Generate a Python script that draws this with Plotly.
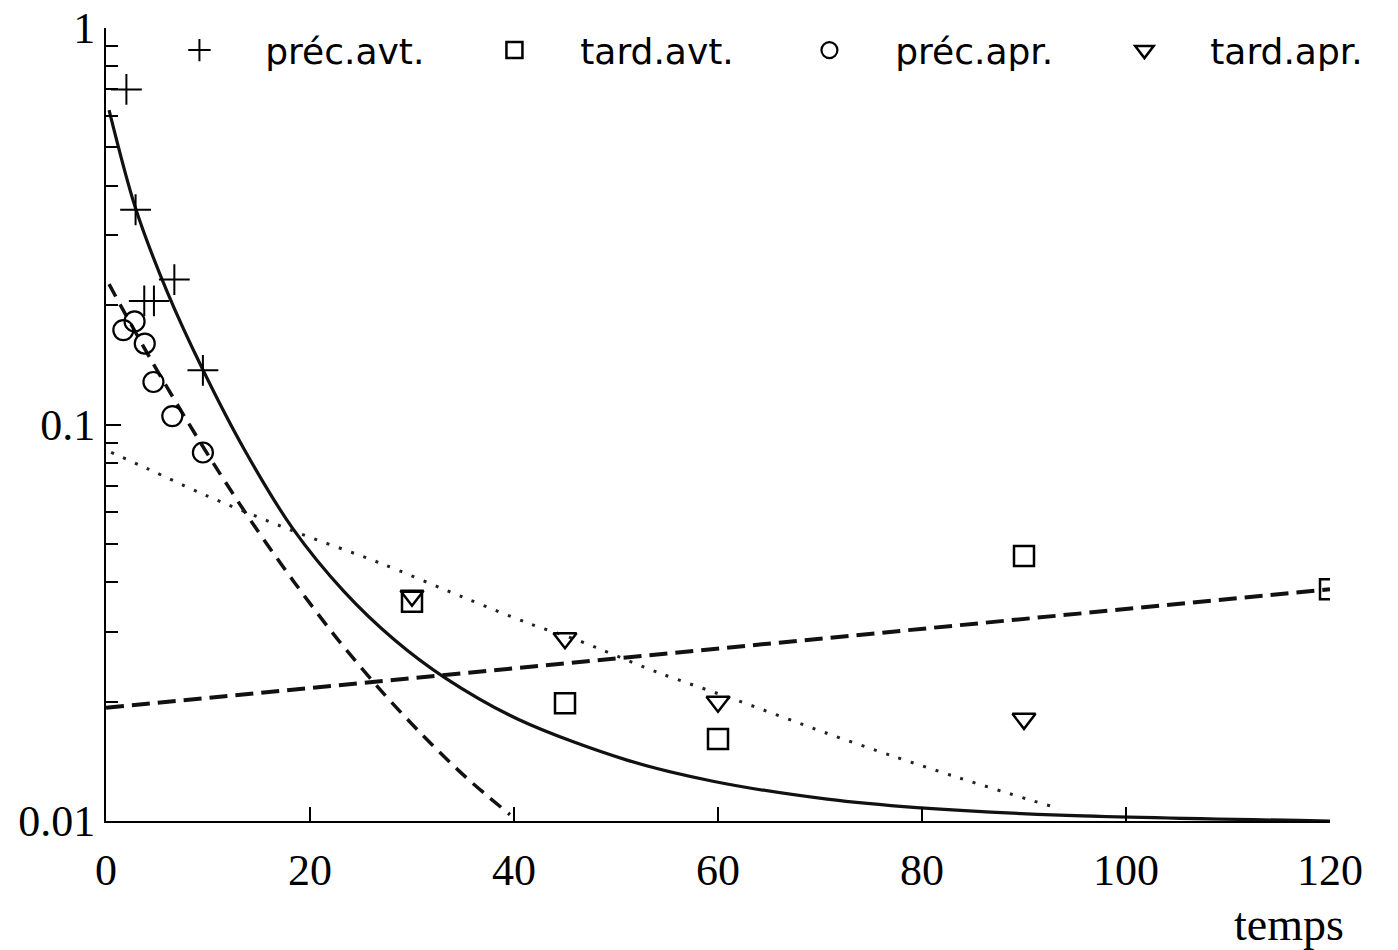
import plotly.graph_objects as go

prec_avt_t = [2.0, 2.9, 3.75, 4.7, 6.7, 9.5]
prec_avt_v = [0.70, 0.348, 0.205, 0.205, 0.232, 0.137]

tard_avt_t = [30, 45, 60, 90, 120]
tard_avt_v = [0.0357, 0.0198, 0.0161, 0.0466, 0.0384]

prec_apr_t = [1.7, 2.8, 3.8, 4.65, 6.5, 9.5]
prec_apr_v = [0.173, 0.182, 0.160, 0.128, 0.105, 0.085]

tard_apr_t = [30, 45, 60, 90]
tard_apr_v = [0.037, 0.0289, 0.0200, 0.0181]

# ---- fitted curves ----
fit_prec_avt_t = [0.3, 2.9, 6.0, 9.5, 13.6, 18.3, 23.3, 28.3, 33.2, 40.5, 51.0,
                  59.5, 70.7, 79.5, 93.5, 120]
fit_prec_avt_v = [0.621, 0.351, 0.216, 0.1374, 0.0861, 0.0547, 0.0380, 0.0286, 0.0230,
                  0.0180, 0.01426, 0.0126, 0.01135, 0.01081, 0.01035, 0.0100]

fit_prec_apr_t = [0.3, 1.4, 4.33, 7.67, 10.97, 14.4, 18.4, 22.4, 26.7, 31.0, 35.3, 39.6]
fit_prec_apr_v = [0.226, 0.2004, 0.1469, 0.1050, 0.0766, 0.0562, 0.0402, 0.0294, 0.0217,
                  0.0165, 0.01288, 0.01038]

fit_tard_avt_t = [0, 120]
fit_tard_avt_v = [0.0193, 0.0384]

fit_tard_apr_t = [0.5, 4.1, 9.7, 18.1, 26.8, 35.1, 41.6, 46.2, 54.1, 62.0, 70.6,
                  77.1, 83.7, 90.3, 93.5]
fit_tard_apr_v = [0.0851, 0.0773, 0.0664, 0.0542, 0.0448, 0.0366, 0.0314, 0.0286,
                  0.0237, 0.0201, 0.01667, 0.01459, 0.01283, 0.01136, 0.01074]

x_ticks = [0, 20, 40, 60, 80, 100, 120]
y_ticks = [0.01, 0.1, 1]
y_ticktext = ["0.01", "0.1", "1"]

NB = "\u00a0" * 4
names = [NB + "préc.avt.", NB + "tard.avt.", NB + "préc.apr.", NB + "tard.apr."]

fig = go.Figure()

# fitted lines
fig.add_trace(go.Scatter(x=fit_prec_avt_t, y=fit_prec_avt_v, mode="lines",
                         line=dict(color="#111", width=3.2, shape="spline", smoothing=0.9),
                         showlegend=False, hoverinfo="skip"))
fig.add_trace(go.Scatter(x=fit_prec_apr_t, y=fit_prec_apr_v, mode="lines",
                         line=dict(color="#111", width=3.5, dash="14px,9px",
                                   shape="spline", smoothing=0.9),
                         showlegend=False, hoverinfo="skip"))
fig.add_trace(go.Scatter(x=fit_tard_avt_t, y=fit_tard_avt_v, mode="lines",
                         line=dict(color="#111", width=4, dash="18px,8px"),
                         showlegend=False, hoverinfo="skip"))
fig.add_trace(go.Scatter(x=fit_tard_apr_t, y=fit_tard_apr_v, mode="lines",
                         line=dict(color="#222", width=3, dash="3px,10px",
                                   shape="spline", smoothing=0.9),
                         showlegend=False, hoverinfo="skip"))

# observed markers
mk = [
    (prec_avt_t, prec_avt_v, "cross-thin-open", 22, 2),
    (tard_avt_t, tard_avt_v, "square-open", 20, 2.5),
    (prec_apr_t, prec_apr_v, "circle-open", 20, 2.2),
    (tard_apr_t, tard_apr_v, "triangle-down-open", 20, 2.5),
]
for i, (t, v, sym, sz, lw) in enumerate(mk):
    fig.add_trace(go.Scatter(
        x=t, y=v, mode="markers", name=names[i],
        marker=dict(symbol=sym, size=sz, color="black", line=dict(color="black", width=lw)),
        legendwidth=270 if i < 3 else None,
    ))

serif = "Liberation Serif"
fig.update_layout(
    width=1398, height=950,
    margin=dict(l=106, r=68, t=28, b=129, autoexpand=False),
    paper_bgcolor="white", plot_bgcolor="white",
    legend=dict(orientation="h", x=0.06, y=0.972, xanchor="left", yanchor="middle",
                font=dict(family="DejaVu Sans", size=36, color="black"),
                entrywidthmode="pixels", bgcolor="rgba(0,0,0,0)", traceorder="normal"),
    xaxis=dict(range=[0, 120], tickmode="array", tickvals=x_ticks,
               ticks="inside", ticklen=14, tickwidth=1.5, tickcolor="black",
               showline=True, linecolor="black", linewidth=2, showgrid=False, zeroline=False,
               tickfont=dict(family=serif, size=44, color="black"), ticklabelstandoff=9,
               ticklabeloverflow="allow"),
    yaxis=dict(type="log", range=[-2, 0], tickmode="array", tickvals=y_ticks, ticktext=y_ticktext,
               ticks="inside", ticklen=15, tickwidth=1.5, tickcolor="black",
               minor=dict(ticks="inside", ticklen=12, tickwidth=1.5, tickcolor="black",
                          tickmode="array",
                          tickvals=[m * d for d in (0.01, 0.1) for m in range(2, 10)]),
               showline=True, linecolor="black", linewidth=2, showgrid=False, zeroline=False,
               tickfont=dict(family=serif, size=44, color="black"), ticklabelstandoff=0,
               ticklabeloverflow="allow"),
    annotations=[dict(text="temps", xref="paper", yref="paper", x=1.0, y=-0.130,
                      xanchor="right", yanchor="middle", xshift=16, showarrow=False,
                      font=dict(family=serif, size=46, color="black"))],
)

fig.write_html("out.html", config={"displayModeBar": False},
               post_script="document.body.style.margin='0';")
